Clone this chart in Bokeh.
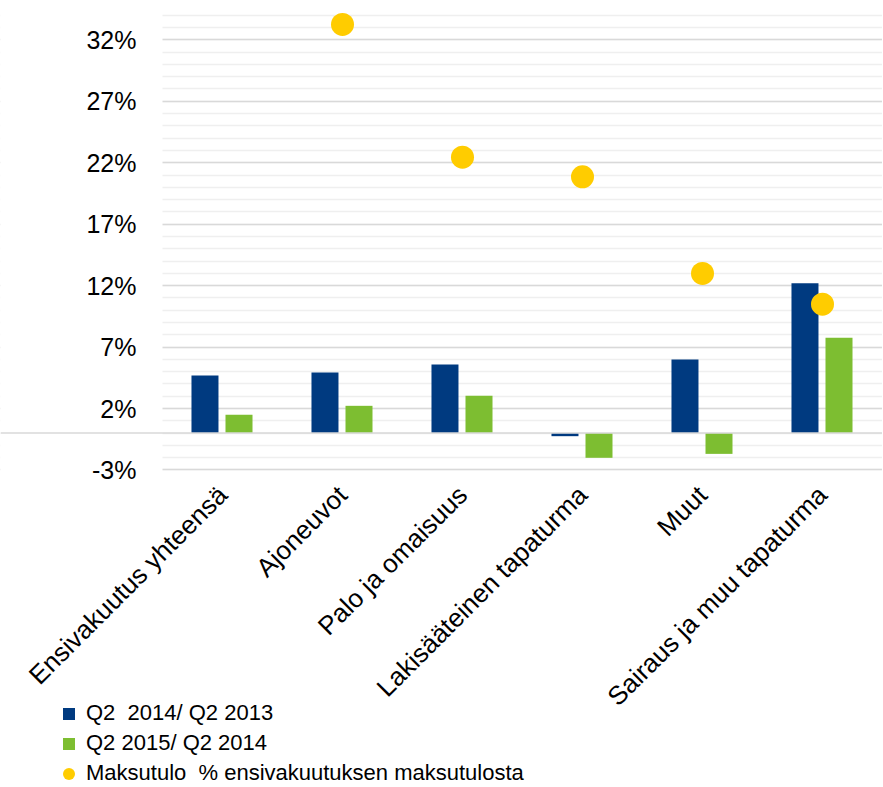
from bokeh.plotting import figure
from bokeh.models import (Range1d, FixedTicker, NumeralTickFormatter, LinearAxis, Grid,
                          Span, Legend, LegendItem, ColumnDataSource, BoxAnnotation)
from bokeh.transform import dodge
from bokeh.embed import file_html
from bokeh.resources import INLINE

# ---- data ----
categories = ["Ensivakuutus yhteensä", "Ajoneuvot", "Palo ja omaisuus",
              "Lakisääteinen tapaturma", "Muut", "Sairaus ja muu tapaturma"]
growth_2014_vs_2013 = [0.0469, 0.0493, 0.0558, -0.0025, 0.0599, 0.1220]
growth_2015_vs_2014 = [0.0149, 0.0222, 0.0303, -0.0201, -0.0169, 0.0775]
share_categories = ["Ajoneuvot", "Palo ja omaisuus", "Lakisääteinen tapaturma",
                    "Muut", "Sairaus ja muu tapaturma"]
share_of_premiums = [0.3325, 0.2245, 0.2085, 0.1299, 0.1049]
y_tick_values = [-0.03, 0.02, 0.07, 0.12, 0.17, 0.22, 0.27, 0.32]
y_minor_values = [i / 100 for i in range(-3, 35)]
series_labels = ["Q2  2014/ Q2 2013", "Q2 2015/ Q2 2014",
                 "Maksutulo  % ensivakuutuksen maksutulosta"]

BLUE = "#003a80"
GREEN = "#7dbe31"
YELLOW = "#ffcc00"
FONT = "Liberation Sans"

# categorical positions on a numeric axis (category i centred at i + 0.5)
cat_pos = [i + 0.5 for i in range(len(categories))]
share_pos = [categories.index(c) + 0.5 for c in share_categories]
bars = ColumnDataSource(dict(x=cat_pos, a=growth_2014_vs_2013, b=growth_2015_vs_2014))
dots = ColumnDataSource(dict(x=share_pos, v=share_of_premiums))

p = figure(x_range=Range1d(-1.35, 6.0), y_range=Range1d(-0.28755, 0.352),
           width=882, height=786, output_backend="svg", toolbar_location=None,
           x_axis_location=None, y_axis_location=None,
           min_border=0)
p.outline_line_color = None
p.background_fill_color = "white"
# drop any default grids
p.center = [r for r in p.center if not isinstance(r, Grid)]

ticker_y = FixedTicker(ticks=y_tick_values, minor_ticks=y_minor_values)
grid = Grid(dimension=1, ticker=ticker_y, grid_line_color="#d9d9d9", grid_line_width=1.5,
            minor_grid_line_color="#efefef", minor_grid_line_width=1.5)
p.add_layout(grid)
# blank the gridlines left of the value axis
p.add_layout(BoxAnnotation(right=0, fill_color="white", fill_alpha=1, line_color=None,
                           level="underlay"))

yaxis = LinearAxis(ticker=ticker_y, formatter=NumeralTickFormatter(format="0%"),
                   fixed_location=0)
yaxis.axis_line_color = None
yaxis.major_tick_line_color = None
yaxis.minor_tick_line_color = None
yaxis.major_label_standoff = 20
yaxis.major_label_text_font = FONT
yaxis.major_label_text_font_size = "25px"
yaxis.major_label_text_color = "black"
p.add_layout(yaxis, "left")

xaxis = LinearAxis(ticker=FixedTicker(ticks=cat_pos, minor_ticks=[]),
                   fixed_location=-0.0304)
xaxis.major_label_overrides = {pos: name for pos, name in zip(cat_pos, categories)}
xaxis.axis_line_color = None
xaxis.major_tick_line_color = None
xaxis.minor_tick_line_color = None
xaxis.major_label_orientation = 0.7853981633974483
xaxis.major_label_standoff = 14
xaxis.major_label_text_font = FONT
xaxis.major_label_text_font_size = "26px"
xaxis.major_label_text_color = "black"
p.add_layout(xaxis, "below")

p.add_layout(Span(location=0, dimension="width", line_color="#d9d9d9", line_width=1.5))

r1 = p.vbar(x=dodge("x", -0.146), top="a", width=0.225,
            source=bars, fill_color=BLUE, line_color=None)
r2 = p.vbar(x=dodge("x", 0.1375), top="b", width=0.225,
            source=bars, fill_color=GREEN, line_color=None)
r3 = p.ellipse(x="x", y="v", width=23, height=23, width_units="screen",
               height_units="screen", source=dots, fill_color=YELLOW, line_color=None)

legend = Legend(items=[LegendItem(label=series_labels[0], renderers=[r1]),
                       LegendItem(label=series_labels[1], renderers=[r2]),
                       LegendItem(label=series_labels[2], renderers=[r3])],
                location=(61, 0), orientation="vertical",
                glyph_width=15, glyph_height=15, label_height=24, spacing=4,
                padding=0, margin=0, label_standoff=10,
                border_line_color=None, background_fill_alpha=0,
                label_text_font=FONT, label_text_font_size="22px",
                label_text_color="black")
p.add_layout(legend)

open("out.html", "w").write(file_html(p, INLINE))
